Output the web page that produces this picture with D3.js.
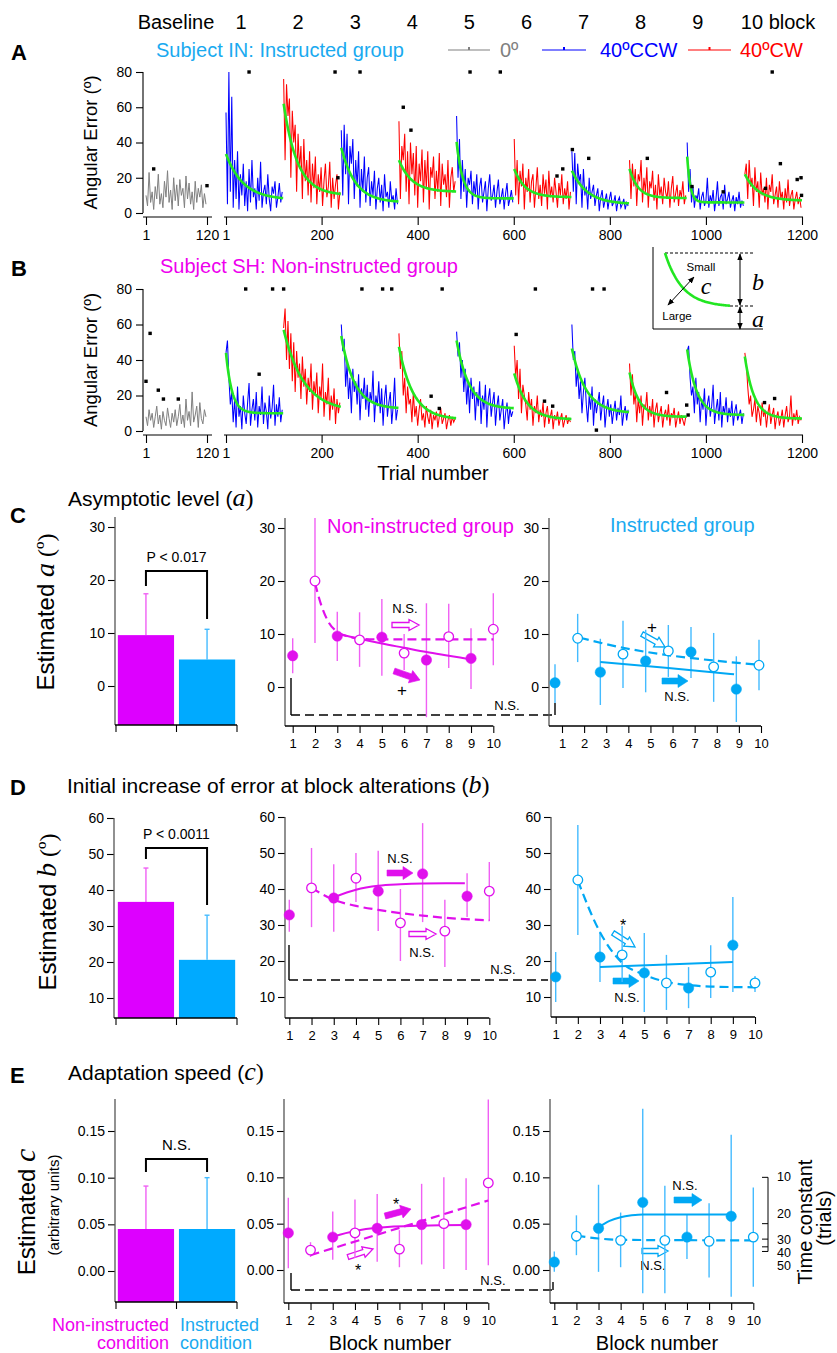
<!DOCTYPE html>
<html><head><meta charset="utf-8">
<script src="https://cdn.jsdelivr.net/npm/d3@7/dist/d3.min.js"></script>
<style>html,body{margin:0;padding:0;background:#fff;}svg{display:block}</style>
</head><body>
<script>
// ===================== DATA =====================
const headerLabels = ["Baseline","1","2","3","4","5","6","7","8","9","10 block"];
const legendLabels = ["0º","40ºCCW","40ºCW"];
const trialTicks = [1,200,400,600,800,1000,1200];
const baselineTicks = [1,120];
const errorTicks = [0,20,40,60,80];
const trialsPerBlock = 120;
const sampleEvery = 3;

// Subject IN (instructed group) - angular error, every 3rd trial
const inBaseline = [10,4,23,6,12,2,15,8,22,5,11,3,18,9,24,6,13,2,20,7,16,4,19,10,14,3,21,8,17,5,12,2,18,6,14,9,16,3,11,5];
const inBlock1 = [57,5,80,12,66,3,30,8,35,2,22,10,28,4,18,1,25,6,30,9,14,2,20,7,29,3,12,16,5,22,8,1,15,11,18,3,9,17,6,12];
const inBlock2 = [76,30,73,55,65,20,58,40,50,12,45,25,38,8,42,18,30,10,35,6,28,14,32,5,22,12,26,4,18,28,9,15,29,3,20,8,16,22,2,12];
const inBlock3 = [47,10,50,22,45,5,38,28,42,8,30,15,35,3,25,12,32,6,20,26,4,18,10,24,2,14,20,6,16,1,22,9,12,3,18,7,10,2,14,5];
const inBlock4 = [52,8,38,30,45,12,35,5,40,22,34,10,38,3,28,18,36,6,30,14,35,2,26,20,32,8,24,12,34,4,28,16,22,9,30,3,20,26,12,18];
const inBlock5 = [55,20,42,8,30,12,25,3,20,16,24,5,18,10,22,2,15,20,6,12,18,1,14,22,7,10,16,3,12,19,5,9,14,2,11,17,4,8,13,6];
const inBlock6 = [42,10,30,5,24,15,28,2,20,12,25,6,18,22,3,14,26,8,16,4,22,11,19,2,24,9,15,6,20,12,3,17,10,22,5,14,8,18,2,12];
const inBlock7 = [35,12,34,5,28,18,22,3,25,10,15,2,20,8,12,16,4,10,14,1,9,13,3,7,11,2,8,12,4,6,10,1,7,9,3,5,8,2,6,4];
const inBlock8 = [30,8,28,15,25,4,22,18,30,6,20,12,26,3,18,14,24,7,16,2,22,10,15,5,20,12,8,18,3,14,21,6,11,16,4,13,9,18,5,10];
const inBlock9 = [40,12,25,6,15,3,10,8,14,2,9,12,4,7,20,3,10,6,13,1,8,18,4,9,11,2,16,5,8,12,3,7,10,1,9,5,12,3,7,4];
const inBlock10 = [22,28,8,30,15,20,4,26,12,18,3,23,10,14,6,20,2,16,12,22,5,10,15,3,18,8,12,2,14,6,19,4,10,13,2,8,12,5,9,3];
const inFitA = [7.5,10,6,12,8.3,9,5,8.5,6,7];
const inFitB = [26,52,31,18,32,16,19,16.5,26,15];
const inFitC = [0.028,0.035,0.034,0.037,0.077,0.044,0.031,0.055,0.15,0.036];
const inOutTrial = [49,228,280,509,572,1138,370,386,234,722,756,702,690,878,971,1036,1124,1155,1190,1198,1199];
const inOutValue = [80,80,80,80,80,80,60,47,20,36,31,25,21,31,15,12,14,28,19,20,10];
const inBaseOutTrial = [16,120];
const inBaseOutValue = [25,15.5];

// Subject SH (non-instructed group)
const shBaseline = [8,3,12,6,10,2,8,14,4,9,1,11,6,3,13,7,2,10,5,12,3,8,15,4,9,2,18,6,11,3,22,5,9,14,2,16,7,4,12,8];
const shBlock1 = [44,51,30,15,22,5,18,2,25,8,14,1,20,10,4,16,27,3,12,18,6,22,2,14,9,25,4,16,11,1,20,7,13,26,3,15,8,19,5,12];
const shBlock2 = [58,69,40,62,35,55,28,50,22,45,30,38,18,42,25,35,15,30,22,38,12,28,20,33,10,25,18,38,8,22,15,30,6,20,12,24,4,18,10,16];
const shBlock3 = [60,45,52,25,38,18,30,10,35,22,28,15,32,6,24,18,30,12,26,8,22,16,34,5,20,14,28,10,24,3,18,26,8,16,22,4,14,30,6,12];
const shBlock4 = [55,35,45,20,30,10,25,15,18,5,22,8,14,3,12,18,6,10,2,14,8,4,12,1,9,6,11,2,8,13,4,7,10,1,6,9,3,8,5,7];
const shBlock5 = [56,42,50,30,40,22,35,15,28,10,30,18,25,6,22,14,28,4,20,12,26,2,18,24,8,16,22,3,14,20,6,12,18,1,10,16,4,13,8,11];
const shBlock6 = [48,30,40,18,35,10,26,20,15,6,22,12,18,3,14,10,20,5,12,8,16,2,10,14,4,8,12,1,9,6,11,3,7,10,2,6,9,4,7,5];
const shBlock7 = [60,40,45,25,35,18,28,10,22,30,15,5,20,12,25,3,18,10,16,22,6,14,20,2,12,18,8,15,4,11,17,6,13,9,20,3,10,14,6,12];
const shBlock8 = [38,20,32,15,22,5,18,10,20,3,15,12,22,6,14,8,18,2,12,16,5,10,14,2,9,12,6,15,3,10,8,13,2,7,11,4,9,6,3,8];
const shBlock9 = [45,48,30,20,25,10,30,15,22,5,18,12,24,3,15,20,8,14,26,4,12,18,6,22,2,14,10,19,5,13,8,17,3,11,15,6,9,12,4,10];
const shBlock10 = [44,38,25,15,20,8,12,18,5,14,10,3,16,8,12,2,10,15,4,9,13,1,8,11,3,7,12,2,9,14,5,8,20,3,10,6,12,4,8,6];
const shFitA = [10,11,12.5,6.5,12.5,6.5,10,8,9,7];
const shFitB = [34,46,41,41,38.5,26,36.5,25,37,35];
const shFitC = [0.08,0.024,0.037,0.034,0.039,0.038,0.034,0.05,0.051,0.052];
const shOutTrial = [42,98,121,284,327,346,451,645,764,788,70,428,445,605,664,681,772,918,960,963,1122,1143];
const shOutValue = [80,80,80,80,80,80,80,80,80,80,32,19.6,12.7,54.4,16.8,14,0.5,21.7,14.6,9,16,18.3];
const shBaseOutTrial = [1,9,25,35,64];
const shBaseOutValue = [28,55,23,18,18];

// Panels C-E
const barCategories = ["Non-instructed","Instructed"];
const blocks = [1,2,3,4,5,6,7,8,9,10];
const aBarMean = [9.6,5.0];
const aBarSD = [7.8,5.7];
const bBarMean = [36.7,20.6];
const bBarSD = [9.4,12.4];
const cBarMean = [0.045,0.045];
const cBarSD = [0.046,0.055];

const aNonMean = [5.9,20.0,9.6,8.9,9.4,6.4,5.1,9.5,5.4,10.9];
const aNonLow  = [2.6,8.3,4.9,3.8,2.1,3.2,-5.7,3.6,-0.4,4.1];
const aNonHigh = [9.2,31.9,14.2,14.1,16.6,10.0,15.8,15.7,11.1,17.7];
const aNonFitOdd  = [[3,10.1],[4,9.1],[5,8.2],[6,7.4],[7,6.6],[8,5.9],[9,5.2]];
const aNonFitEven = [[2,19.6],[2.3,15.2],[2.6,12.3],[3,10.4],[3.5,9.5],[4,9.1],[5,9.0],[10,9.0]];
const aInsMean = [0.8,9.2,2.8,6.2,4.9,6.8,6.6,3.8,-0.4,4.1];
const aInsLow  = [-3.0,4.7,-3.4,-0.2,-1.0,1.9,1.7,-2.8,-6.6,-0.6];
const aInsHigh = [4.3,13.8,9.1,12.5,10.8,11.7,11.3,10.2,5.8,8.9];
const aInsFitOdd  = [[3,4.7],[6,3.6],[8.9,2.4]];
const aInsFitEven = [[2.1,9.3],[4,7.4],[6,6.0],[8,5.0],[10,4.2]];

const bNonMean = [32.8,40.3,37.5,43.0,39.4,30.6,44.2,28.3,38.0,39.4];
const bNonLow  = [28.1,29.4,28.1,36.4,28.3,20.0,30.8,18.3,32.2,31.1];
const bNonHigh = [37.0,51.4,46.9,50.0,50.6,40.0,58.3,37.0,44.4,47.5];
const bNonFitOdd  = [[3,37.7],[4,39.8],[5,40.9],[6,41.3],[7,41.5],[8.9,41.6]];
const bNonFitEven = [[2,40.3],[3,37.0],[4,35.3],[5,34.2],[6,33.3],[7,32.6],[8,32.0],[10,31.3]];
const bInsMean = [15.6,42.5,21.1,21.7,16.7,13.9,12.5,16.9,24.4,13.9];
const bInsLow  = [8.6,27.2,14.2,14.2,5.8,6.4,6.9,9.7,11.4,11.4];
const bInsHigh = [22.5,57.8,28.1,29.7,27.8,21.7,18.3,24.4,37.8,15.8];
const bInsFitOdd  = [[3,18.3],[6,19.0],[9,19.7]];
const bInsFitEven = [[2,42.3],[3,28.0],[4,19.5],[5,16.2],[6,14.2],[7,13.3],[8,12.9],[10,12.7]];

const cNonMean = [0.040,0.0215,0.0355,0.040,0.045,0.0225,0.049,0.050,0.049,0.094];
const cNonLow  = [0.002,0.014,0.011,0.013,0.009,0.003,0.006,0.001,0.000,0.005];
const cNonHigh = [0.078,0.030,0.063,0.076,0.082,0.043,0.093,0.100,0.099,0.184];
const cNonFitOdd  = [[3,0.036],[4,0.042],[5,0.0455],[7,0.0478],[9,0.0485]];
const cNonFitEven = [[2,0.016],[10,0.075]];
const cInsMean = [0.0086,0.0365,0.045,0.032,0.073,0.032,0.0355,0.031,0.058,0.0355];
const cInsLow  = [-0.002,0.016,-0.002,0.003,-0.025,-0.025,0.012,-0.008,-0.029,-0.018];
const cInsHigh = [0.020,0.059,0.092,0.062,0.174,0.091,0.060,0.072,0.146,0.089];
const cInsFitOdd  = [[3,0.046],[3.5,0.053],[4,0.057],[4.5,0.059],[5,0.060],[9,0.060]];
const cInsFitEven = [[2,0.037],[3,0.034],[4,0.0325],[10,0.032]];
const tauTicks = [10,20,30,40,50];

// ===================== DRAWING =====================
const W = 837, H = 1353;
const SANS = "'Liberation Sans', Arial, Helvetica, sans-serif";
const SERIF = "'Liberation Serif', 'Times New Roman', serif";
const BLUE = "#0000FF", RED = "#FF0000", GRAY = "#808080", GREEN = "#22E622";
const MAG = "#E010EC", MAG_BAR = "#DD00FF", MAG_LIGHT = "#F060F4", MAG_TEXT = "#EE00EE";
const CYAN = "#00A8F4", CYAN_BAR = "#00AAFF", CYAN_LIGHT = "#44BBFF", CYAN_TEXT = "#1AAAF0";

const svg = d3.select("body").append("svg").attr("width", W).attr("height", H);
svg.append("rect").attr("width", W).attr("height", H).attr("fill", "#fff");
const defs = svg.append("defs");
defs.append("marker").attr("id","ah").attr("viewBox","0 0 10 10").attr("refX",9).attr("refY",5)
  .attr("markerWidth",7).attr("markerHeight",7).attr("orient","auto-start-reverse")
  .append("path").attr("d","M0,1L10,5L0,9z").attr("fill","#000");

function addText(g, x, y, str, o = {}) {
  const t = g.append("text").attr("x", x).attr("y", y).text(str)
    .attr("font-family", o.family || SANS).attr("font-size", o.size || 14)
    .attr("fill", o.fill || "#000").attr("text-anchor", o.anchor || "start");
  if (o.weight) t.attr("font-weight", o.weight);
  if (o.style) t.attr("font-style", o.style);
  return t;
}
function richText(g, x, y, parts, o = {}) {
  const t = g.append("text").attr("text-anchor", o.anchor || "start")
    .attr("font-size", o.size || 20).attr("fill", o.fill || "#000");
  if (o.rotate) t.attr("transform", `translate(${x},${y}) rotate(${o.rotate})`);
  else t.attr("x", x).attr("y", y);
  parts.forEach(p => {
    const s = t.append("tspan").text(p.t).attr("font-family", p.serif ? SERIF : SANS)
      .attr("font-style", p.italic ? "italic" : "normal");
    if (p.size) s.attr("font-size", p.size);
  });
  return t;
}
function styleAxis(sel, size) {
  sel.selectAll("text").attr("font-family", SANS).attr("font-size", size).attr("fill", "#000");
  sel.selectAll("line").attr("stroke", "#000").attr("stroke-width", 1.1);
  sel.select(".domain").remove();
}
function blockArrow(g, x1, y1, x2, y2, color, filled) {
  const L = Math.hypot(x2 - x1, y2 - y1), ang = Math.atan2(y2 - y1, x2 - x1) * 180 / Math.PI;
  const sw = filled ? 6 : 5, hw = filled ? 13 : 11, hl = 10;
  const pts = [[0,-sw/2],[L-hl,-sw/2],[L-hl,-hw/2],[L,0],[L-hl,hw/2],[L-hl,sw/2],[0,sw/2]];
  g.append("polygon").attr("points", pts.map(p => p.join(",")).join(" "))
    .attr("transform", `translate(${x1},${y1}) rotate(${ang})`)
    .attr("fill", filled ? color : "#fff").attr("stroke", color)
    .attr("stroke-width", filled ? 0.6 : 1.3).attr("stroke-linejoin", "miter");
}

// ---------- header ----------
const xTrial = d3.scaleLinear([1, 1200], [226, 802]);
const xBase = d3.scaleLinear([1, 120], [146, 207]);
const gTop = svg.append("g");
headerLabels.forEach((s, i) => {
  if (i === 0) addText(gTop, 176, 29, s, { size: 20, anchor: "middle" });
  else if (i === 10) addText(gTop, xTrial((i - 1) * trialsPerBlock + 1) - 4, 29, s, { size: 20 });
  else addText(gTop, xTrial((i - 1) * trialsPerBlock + 1) + 15 - (i - 1) * 0.55, 29, s, { size: 20, anchor: "middle" });
});
addText(gTop, 11, 60, "A", { size: 22, weight: "bold" });
addText(gTop, 156, 57, "Subject IN: Instructed group", { size: 20, fill: CYAN_TEXT });
const legendX = [[448, 490, 500], [542, 586, 600], [688, 731, 740]];
const legendColors = [GRAY, BLUE, RED];
legendLabels.forEach((s, i) => {
  const [a, b, t] = legendX[i];
  gTop.append("line").attr("x1", a).attr("x2", b).attr("y1", 50).attr("y2", 50).attr("stroke", legendColors[i]).attr("stroke-width", 1.2);
  gTop.append("rect").attr("x", (a + b) / 2 - 1).attr("y", 47).attr("width", 2).attr("height", 3).attr("fill", legendColors[i]);
  addText(gTop, t, 57, s, { size: 20, fill: legendColors[i] });
});

// ---------- trial panels ----------
function tracePanel(o) {
  const g = svg.append("g");
  const y = d3.scaleLinear([0, 80], [o.y0, o.y80]);
  const line = d3.line();
  g.append("path").attr("d", line(o.baseline.map((v, i) => [xBase(1 + i * sampleEvery), y(v)])))
    .attr("fill", "none").attr("stroke", GRAY).attr("stroke-width", 1);
  o.blocks.forEach((arr, k) => {
    g.append("path").attr("d", line(arr.map((v, i) => [xTrial(k * trialsPerBlock + 1 + i * sampleEvery), y(v)])))
      .attr("fill", "none").attr("stroke", k % 2 === 0 ? BLUE : RED).attr("stroke-width", 1.05);
  });
  o.fitA.forEach((a, k) => {
    const b = o.fitB[k], c = o.fitC[k];
    const pts = d3.range(0, trialsPerBlock).map(t => [xTrial(k * trialsPerBlock + 1 + t), y(a + b * Math.exp(-c * t))]);
    g.append("path").attr("d", line(pts)).attr("fill", "none").attr("stroke", GREEN).attr("stroke-width", 2.6);
  });
  o.outTrial.forEach((t, i) => g.append("rect").attr("x", xTrial(t) - 1.7).attr("y", y(o.outValue[i]) - 1.7)
    .attr("width", 3.4).attr("height", 3.4).attr("fill", "#000"));
  o.baseOutTrial.forEach((t, i) => g.append("rect").attr("x", xBase(t) - 1.7).attr("y", y(o.baseOutValue[i]) - 1.7)
    .attr("width", 3.4).attr("height", 3.4).attr("fill", "#000"));
  const axY = o.y0 + 4;
  const gx = g.append("g").attr("transform", `translate(0,${axY})`)
    .call(d3.axisBottom(xTrial).tickValues(trialTicks).tickSize(8).tickPadding(5).tickFormat(d3.format("d")));
  styleAxis(gx, 14);
  g.append("line").attr("x1", 224).attr("x2", 803).attr("y1", axY).attr("y2", axY).attr("stroke", "#000").attr("stroke-width", 1.1);
  const gb = g.append("g").attr("transform", `translate(0,${axY})`)
    .call(d3.axisBottom(xBase).tickValues(baselineTicks).tickSize(8).tickPadding(5).tickFormat(d3.format("d")));
  styleAxis(gb, 14);
  g.append("line").attr("x1", 143).attr("x2", 212).attr("y1", axY).attr("y2", axY).attr("stroke", "#000").attr("stroke-width", 1.1);
  const gy = g.append("g").attr("transform", "translate(143,0)")
    .call(d3.axisLeft(y).tickValues(errorTicks).tickSize(7).tickPadding(4));
  styleAxis(gy, 14);
  g.append("line").attr("x1", 143).attr("x2", 143).attr("y1", o.y80).attr("y2", o.y0).attr("stroke", "#000").attr("stroke-width", 1.1);
  addText(g, 0, 0, "Angular Error (º)", { size: 18.5, anchor: "middle" })
    .attr("transform", `translate(97,${(o.y0 + o.y80) / 2}) rotate(-90)`);
  return g;
}
tracePanel({ y0: 213, y80: 72, baseline: inBaseline,
  blocks: [inBlock1,inBlock2,inBlock3,inBlock4,inBlock5,inBlock6,inBlock7,inBlock8,inBlock9,inBlock10],
  fitA: inFitA, fitB: inFitB, fitC: inFitC, outTrial: inOutTrial, outValue: inOutValue,
  baseOutTrial: inBaseOutTrial, baseOutValue: inBaseOutValue });
const gB = tracePanel({ y0: 431, y80: 289, baseline: shBaseline,
  blocks: [shBlock1,shBlock2,shBlock3,shBlock4,shBlock5,shBlock6,shBlock7,shBlock8,shBlock9,shBlock10],
  fitA: shFitA, fitB: shFitB, fitC: shFitC, outTrial: shOutTrial, outValue: shOutValue,
  baseOutTrial: shBaseOutTrial, baseOutValue: shBaseOutValue });
addText(gB, 11, 276, "B", { size: 22, weight: "bold" });
addText(gB, 160, 273, "Subject SH: Non-instructed group", { size: 20, fill: MAG_TEXT });
addText(gB, 433, 480, "Trial number", { size: 20, anchor: "middle" });

// inset schematic
(function inset() {
  const g = svg.append("g");
  g.append("path").attr("d", "M653,247V329H763").attr("fill", "none").attr("stroke", "#000").attr("stroke-width", 1);
  g.append("line").attr("x1", 665).attr("x2", 755).attr("y1", 253).attr("y2", 253).attr("stroke", "#000").attr("stroke-dasharray", "3,2");
  g.append("line").attr("x1", 730).attr("x2", 754).attr("y1", 306).attr("y2", 306).attr("stroke", "#000").attr("stroke-dasharray", "3,2");
  const xs = d3.scaleLinear([0, 60], [665, 730]);
  const ys = d3.scaleLinear([0, 1], [307, 253]);
  const pts = d3.range(0, 61).map(t => [xs(t), ys(Math.exp(-t / 16))]);
  g.append("path").attr("d", d3.line()(pts)).attr("fill", "none").attr("stroke", GREEN).attr("stroke-width", 2.6);
  g.append("line").attr("x1", 740).attr("x2", 740).attr("y1", 254).attr("y2", 305).attr("stroke", "#000")
    .attr("marker-start", "url(#ah)").attr("marker-end", "url(#ah)");
  g.append("line").attr("x1", 740).attr("x2", 740).attr("y1", 307).attr("y2", 329).attr("stroke", "#000")
    .attr("marker-start", "url(#ah)").attr("marker-end", "url(#ah)");
  g.append("line").attr("x1", 668).attr("x2", 694).attr("y1", 305).attr("y2", 277).attr("stroke", "#000")
    .attr("marker-start", "url(#ah)").attr("marker-end", "url(#ah)");
  addText(g, 701, 271, "Small", { size: 11.5, anchor: "middle" });
  addText(g, 677, 320, "Large", { size: 11.5, anchor: "middle" });
  addText(g, 706, 294, "c", { size: 24, family: SERIF, style: "italic", anchor: "middle" });
  addText(g, 758, 290, "b", { size: 24, family: SERIF, style: "italic", anchor: "middle" });
  addText(g, 758, 327, "a", { size: 24, family: SERIF, style: "italic", anchor: "middle" });
})();

// ---------- bar panels ----------
function barPanel(o) {
  const g = svg.append("g");
  const y = d3.scaleLinear(o.yDomain, o.yRange);
  const x = d3.scaleBand().domain(barCategories).range([116, 237]).paddingInner(0.08).paddingOuter(0.03);
  const fills = [MAG_BAR, CYAN_BAR], errC = [MAG_LIGHT, CYAN_LIGHT];
  o.mean.forEach((m, i) => {
    const cx = x(barCategories[i]) + x.bandwidth() / 2;
    g.append("line").attr("x1", cx).attr("x2", cx).attr("y1", y(m)).attr("y2", y(m + o.sd[i])).attr("stroke", errC[i]).attr("stroke-width", 1.4);
    g.append("line").attr("x1", cx - 2.5).attr("x2", cx + 2.5).attr("y1", y(m + o.sd[i])).attr("y2", y(m + o.sd[i])).attr("stroke", errC[i]).attr("stroke-width", 1.4);
    g.append("rect").attr("x", x(barCategories[i])).attr("width", x.bandwidth())
      .attr("y", y(m)).attr("height", o.axisBottom - y(m)).attr("fill", fills[i]);
  });
  const gy = g.append("g").attr("transform", `translate(${o.axisX},0)`)
    .call(d3.axisLeft(y).tickValues(o.ticks).tickSize(7).tickPadding(3).tickFormat(o.fmt));
  styleAxis(gy, 14);
  g.append("line").attr("x1", o.axisX).attr("x2", o.axisX).attr("y1", o.axisTop).attr("y2", o.axisBottom).attr("stroke", "#555").attr("stroke-width", 1.3);
  g.append("line").attr("x1", o.axisX).attr("x2", 237).attr("y1", o.axisBottom).attr("y2", o.axisBottom).attr("stroke", "#000").attr("stroke-width", 1.3);
  const mid = (x(barCategories[0]) + x.bandwidth() + x(barCategories[1])) / 2;
  [116, mid, 237].forEach(px => g.append("line").attr("x1", px).attr("x2", px).attr("y1", o.axisBottom).attr("y2", o.axisBottom + 7).attr("stroke", "#000").attr("stroke-width", 1.1));
  const c0 = x(barCategories[0]) + x.bandwidth() / 2, c1 = x(barCategories[1]) + x.bandwidth() / 2;
  g.append("path").attr("d", `M${c0},${o.bracket[1]}V${o.bracket[0]}H${c1}V${o.bracket[2]}`)
    .attr("fill", "none").attr("stroke", "#000").attr("stroke-width", 2);
  addText(g, (c0 + c1) / 2, o.bracket[0] - 9, o.sig, { size: o.sigSize || 14, anchor: "middle" });
  return g;
}

function scatterPanel(o) {
  const g = svg.append("g");
  const y = d3.scaleLinear(o.yDomain, o.yRange);
  const xt = d3.scaleLinear([1, 10], o.xTick);
  const xd = d3.scaleLinear([1, 10], o.xData || o.xTick);
  const gy = g.append("g").attr("transform", `translate(${o.axisX},0)`)
    .call(d3.axisLeft(y).tickValues(o.ticks).tickSize(7).tickPadding(3).tickFormat(o.fmt));
  styleAxis(gy, 14);
  g.append("line").attr("x1", o.axisX).attr("x2", o.axisX).attr("y1", o.axisTop).attr("y2", o.axisBottom).attr("stroke", "#555").attr("stroke-width", 1.3);
  g.append("line").attr("x1", o.axisX).attr("x2", xt(10)).attr("y1", o.axisBottom).attr("y2", o.axisBottom).attr("stroke", "#000").attr("stroke-width", 1.3);
  const gx = g.append("g").attr("transform", `translate(0,${o.axisBottom})`)
    .call(d3.axisBottom(xt).tickValues(blocks).tickSize(7).tickPadding(6).tickFormat(d3.format("d")));
  styleAxis(gx, 13);
  blocks.forEach((b, i) => g.append("line").attr("x1", xd(b)).attr("x2", xd(b))
    .attr("y1", y(o.low[i])).attr("y2", y(o.high[i])).attr("stroke", o.light).attr("stroke-width", 1.4));
  const ln = d3.line().x(d => xd(d[0])).y(d => y(d[1])).curve(d3.curveMonotoneX);
  g.append("path").attr("d", ln(o.fitOdd)).attr("fill", "none").attr("stroke", o.color).attr("stroke-width", 2);
  g.append("path").attr("d", ln(o.fitEven)).attr("fill", "none").attr("stroke", o.color).attr("stroke-width", 2.2).attr("stroke-dasharray", "9,5");
  blocks.forEach((b, i) => {
    const filled = b % 2 === 1;
    g.append("circle").attr("cx", xd(b)).attr("cy", y(o.mean[i])).attr("r", filled ? 5.2 : 4.8)
      .attr("fill", filled ? o.color : "#fff").attr("stroke", o.color).attr("stroke-width", filled ? 0.5 : 1.3);
  });
  return g;
}

// Panel C
const gC = svg.append("g");
addText(gC, 10, 523, "C", { size: 22, weight: "bold" });
richText(gC, 68, 506, [{ t: "Asymptotic level (" }, { t: "a", serif: true, italic: true, size: 26 }, { t: ")", serif: true, size: 24 }], { size: 21 });
richText(gC, 54, 612, [{ t: "Estimated " }, { t: "a", serif: true, italic: true, size: 28 }, { t: " (º)", serif: true }], { size: 24, anchor: "middle", rotate: -90 });
barPanel({ yDomain: [0, 30], yRange: [686, 527], ticks: [0, 10, 20, 30], fmt: d3.format("d"),
  axisX: 115, axisTop: 517, axisBottom: 725, mean: aBarMean, sd: aBarSD, bracket: [571, 586, 619], sig: "P < 0.017" });
scatterPanel({ yDomain: [0, 30], yRange: [687, 528], ticks: [0, 10, 20, 30], fmt: d3.format("d"),
  axisX: 285, axisTop: 518, axisBottom: 726, xTick: [292.7, 493.3],
  mean: aNonMean, low: aNonLow, high: aNonHigh, fitOdd: aNonFitOdd, fitEven: aNonFitEven, color: MAG, light: MAG_LIGHT });
scatterPanel({ yDomain: [0, 30], yRange: [687, 528], ticks: [0, 10, 20, 30], fmt: d3.format("d"),
  axisX: 549, axisTop: 518, axisBottom: 726, xTick: [562, 761], xData: [555, 759],
  mean: aInsMean, low: aInsLow, high: aInsHigh, fitOdd: aInsFitOdd, fitEven: aInsFitEven, color: CYAN, light: CYAN_LIGHT });
addText(gC, 327, 533, "Non-instructed group", { size: 20, fill: MAG_TEXT });
addText(gC, 610, 532, "Instructed group", { size: 20, fill: CYAN_TEXT });
blockArrow(gC, 392, 625, 419, 625, MAG, false);
addText(gC, 405, 613, "N.S.", { size: 13, anchor: "middle" });
blockArrow(gC, 394, 671, 420, 680, MAG, true);
addText(gC, 402, 696, "+", { size: 17, anchor: "middle" });
blockArrow(gC, 662, 681, 688, 681, CYAN, true);
addText(gC, 677, 701, "N.S.", { size: 13, anchor: "middle" });
blockArrow(gC, 642, 634, 665, 647, CYAN, false);
addText(gC, 652, 633, "+", { size: 17, anchor: "middle" });
gC.append("path").attr("d", "M291,678V715").attr("stroke", "#000").attr("stroke-width", 1.4).attr("fill", "none");
gC.append("path").attr("d", "M291,715H555").attr("stroke", "#000").attr("stroke-width", 1.4).attr("stroke-dasharray", "9,5").attr("fill", "none");
gC.append("path").attr("d", "M555,715V703").attr("stroke", "#000").attr("stroke-width", 1.4).attr("fill", "none");
addText(gC, 507, 710, "N.S.", { size: 13, anchor: "middle" });

// Panel D
const gD = svg.append("g");
addText(gD, 10, 795, "D", { size: 22, weight: "bold" });
richText(gD, 67, 793, [{ t: "Initial increase of error at block alterations (" }, { t: "b", serif: true, italic: true, size: 26 }, { t: ")", serif: true, size: 24 }], { size: 21 });
richText(gD, 56, 912, [{ t: "Estimated " }, { t: "b", serif: true, italic: true, size: 28 }, { t: " (º)", serif: true }], { size: 24, anchor: "middle", rotate: -90 });
barPanel({ yDomain: [10, 60], yRange: [998, 818], ticks: [10, 20, 30, 40, 50, 60], fmt: d3.format("d"),
  axisX: 114, axisTop: 818, axisBottom: 1018, mean: bBarMean, sd: bBarSD, bracket: [848, 859, 905], sig: "P < 0.0011" });
scatterPanel({ yDomain: [10, 60], yRange: [997, 817], ticks: [10, 20, 30, 40, 50, 60], fmt: d3.format("d"),
  axisX: 285, axisTop: 817, axisBottom: 1018, xTick: [289.3, 489.3],
  mean: bNonMean, low: bNonLow, high: bNonHigh, fitOdd: bNonFitOdd, fitEven: bNonFitEven, color: MAG, light: MAG_LIGHT });
scatterPanel({ yDomain: [10, 60], yRange: [997, 817], ticks: [10, 20, 30, 40, 50, 60], fmt: d3.format("d"),
  axisX: 551, axisTop: 817, axisBottom: 1017, xTick: [555.7, 755],
  mean: bInsMean, low: bInsLow, high: bInsHigh, fitOdd: bInsFitOdd, fitEven: bInsFitEven, color: CYAN, light: CYAN_LIGHT });
blockArrow(gD, 387, 873, 413, 873, MAG, true);
addText(gD, 400, 863, "N.S.", { size: 13, anchor: "middle" });
blockArrow(gD, 409, 934, 436, 934, MAG, false);
addText(gD, 422, 957, "N.S.", { size: 13, anchor: "middle" });
blockArrow(gD, 613, 981, 639, 981, CYAN, true);
addText(gD, 627, 1002, "N.S.", { size: 13, anchor: "middle" });
blockArrow(gD, 613, 933, 635, 947, CYAN, false);
addText(gD, 623, 931, "*", { size: 16, anchor: "middle" });
gD.append("path").attr("d", "M289,945V980").attr("stroke", "#000").attr("stroke-width", 1.4).attr("fill", "none");
gD.append("path").attr("d", "M289,980H548").attr("stroke", "#000").attr("stroke-width", 1.4).attr("stroke-dasharray", "9,5").attr("fill", "none");
addText(gD, 503, 974, "N.S.", { size: 13, anchor: "middle" });

// Panel E
const gE = svg.append("g");
addText(gE, 10, 1083, "E", { size: 22, weight: "bold" });
richText(gE, 68, 1080, [{ t: "Adaptation speed (" }, { t: "c", serif: true, italic: true, size: 26 }, { t: ")", serif: true, size: 24 }], { size: 21 });
richText(gE, 35, 1212, [{ t: "Estimated " }, { t: "c", serif: true, italic: true, size: 30 }], { size: 24, anchor: "middle", rotate: -90 });
addText(gE, 0, 0, "(arbitrary units)", { size: 15, anchor: "middle" }).attr("transform", "translate(59,1205) rotate(-90)");
barPanel({ yDomain: [0, 0.15], yRange: [1271, 1131], ticks: [0, 0.05, 0.10, 0.15], fmt: d3.format(".2f"),
  axisX: 115, axisTop: 1099, axisBottom: 1302, mean: cBarMean, sd: cBarSD, bracket: [1159, 1172, 1172], sig: "N.S.", sigSize: 15 });
scatterPanel({ yDomain: [0, 0.15], yRange: [1270, 1131], ticks: [0, 0.05, 0.10, 0.15], fmt: d3.format(".2f"),
  axisX: 284, axisTop: 1099, axisBottom: 1303, xTick: [288.3, 488.3],
  mean: cNonMean, low: cNonLow, high: cNonHigh, fitOdd: cNonFitOdd, fitEven: cNonFitEven, color: MAG, light: MAG_LIGHT });
const yERight = d3.scaleLinear([0, 0.15], [1270, 1131]);
scatterPanel({ yDomain: [0, 0.15], yRange: [1270, 1131], ticks: [0, 0.05, 0.10, 0.15], fmt: d3.format(".2f"),
  axisX: 550, axisTop: 1099, axisBottom: 1303, xTick: [554.3, 753.3],
  mean: cInsMean, low: cInsLow, high: cInsHigh, fitOdd: cInsFitOdd, fitEven: cInsFitEven, color: CYAN, light: CYAN_LIGHT });
addText(gE, 169, 1331, "Non-instructed", { size: 18, anchor: "end", fill: MAG_TEXT });
addText(gE, 169, 1349, "condition", { size: 18, anchor: "end", fill: MAG_TEXT });
addText(gE, 180, 1331, "Instructed", { size: 18, fill: CYAN_TEXT });
addText(gE, 180, 1349, "condition", { size: 18, fill: CYAN_TEXT });
addText(gE, 390, 1350, "Block number", { size: 20, anchor: "middle" });
addText(gE, 657, 1350, "Block number", { size: 20, anchor: "middle" });
blockArrow(gE, 385, 1216, 411, 1209, MAG, true);
addText(gE, 396, 1210, "*", { size: 16, anchor: "middle" });
blockArrow(gE, 348, 1257, 373, 1249, MAG, false);
addText(gE, 358, 1276, "*", { size: 16, anchor: "middle" });
blockArrow(gE, 674, 1200, 702, 1200, CYAN, true);
addText(gE, 685, 1190, "N.S.", { size: 13, anchor: "middle" });
blockArrow(gE, 642, 1251, 668, 1251, CYAN, false);
addText(gE, 653, 1270, "N.S.", { size: 13, anchor: "middle" });
gE.append("path").attr("d", "M291,1273V1290").attr("stroke", "#000").attr("stroke-width", 1.4).attr("fill", "none");
gE.append("path").attr("d", "M291,1290H553").attr("stroke", "#000").attr("stroke-width", 1.4).attr("stroke-dasharray", "9,5").attr("fill", "none");
gE.append("path").attr("d", "M553,1290V1282").attr("stroke", "#000").attr("stroke-width", 1.4).attr("fill", "none");
addText(gE, 493, 1285, "N.S.", { size: 13, anchor: "middle" });
// time-constant axis (c = 1/tau)
const tauLabelY = [1181, 1218, 1244, 1257, 1270];
gE.append("line").attr("x1", 768).attr("x2", 768).attr("y1", yERight(1 / 10)).attr("y2", yERight(1 / 50)).attr("stroke", "#000").attr("stroke-width", 1);
tauTicks.forEach((tau, i) => {
  gE.append("line").attr("x1", 762).attr("x2", 768).attr("y1", yERight(1 / tau)).attr("y2", yERight(1 / tau)).attr("stroke", "#000").attr("stroke-width", 1);
  addText(gE, 777, tauLabelY[i], String(tau), { size: 12.5 });
});
addText(gE, 0, 0, "Time constant", { size: 20, anchor: "middle" }).attr("transform", "translate(812,1222) rotate(-90)");
addText(gE, 0, 0, "(trials)", { size: 20, anchor: "middle" }).attr("transform", "translate(831,1218) rotate(-90)");
</script>
</body></html>
